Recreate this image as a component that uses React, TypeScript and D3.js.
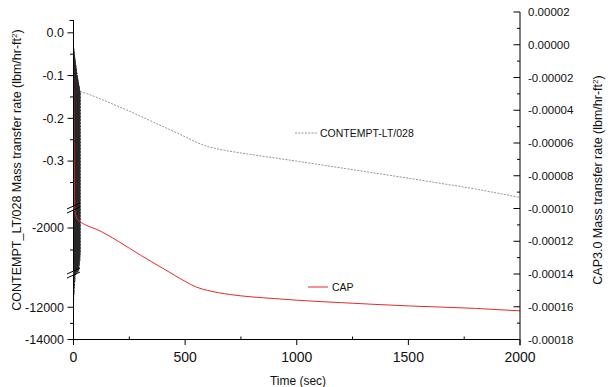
import React from "react";
import * as d3 from "d3";

// ---------- data ----------
const xTicks = [0, 500, 1000, 1500, 2000];
const xMinorTicks = [250, 750, 1250, 1750];

const leftMajor1 = [0, -0.1, -0.2, -0.3];
const leftMajor1Labels = ["0.0", "-0.1", "-0.2", "-0.3"];
const leftMinor1 = [-0.05, -0.15, -0.25, -0.35];
const leftMajor2 = [-2000];
const leftMinor2 = [-3000];
const leftMajor3 = [-12000, -14000];
const leftMinor3 = [-13000];

const rightTicks = [0.00002, 0, -0.00002, -0.00004, -0.00006, -0.00008, -0.0001, -0.00012, -0.00014, -0.00016, -0.00018];
const rightTickLabels = ["0.00002", "0.00000", "-0.00002", "-0.00004", "-0.00006", "-0.00008", "-0.00010", "-0.00012", "-0.00014", "-0.00016", "-0.00018"];
const rightMinor = [0.00001, -0.00001, -0.00003, -0.00005, -0.00007, -0.00009, -0.00011, -0.00013, -0.00015, -0.00017];

// CONTEMPT-LT/028: early oscillation (peaks at whole seconds, troughs at half seconds)
const oscPeaks = [-0.03, -0.035, -0.04, -0.045, -0.05, -0.055, -0.058, -0.062, -0.066, -0.07, -0.074, -0.078, -0.082, -0.086, -0.09, -0.094, -0.098, -0.101, -0.104, -0.107, -0.11, -0.113, -0.116, -0.119, -0.122, -0.125, -0.128, -0.131, -0.134, -0.136, -0.138];
const oscTroughs = [-11600, -9800, -11200, -8500, -10800, -7000, -10400, -6000, -9600, -5200, -9000, -4800, -8000, -4400, -7200, -4100, -6000, -3900, -5000, -3800, -4500, -3600, -4200, -3500, -3900, -3400, -3700, -3300, -3500, -3200];
// CONTEMPT-LT/028: smooth part
const contemptTime = [30, 60, 100, 150, 200, 250, 300, 350, 400, 450, 500, 550, 600, 650, 700, 800, 1000, 1200, 1500, 1800, 2000];
const contemptValue = [-0.138, -0.142, -0.15, -0.161, -0.172, -0.183, -0.195, -0.207, -0.219, -0.231, -0.243, -0.256, -0.266, -0.272, -0.277, -0.285, -0.3, -0.316, -0.34, -0.365, -0.385];

// CAP3.0
const capTime = [0, 1, 3, 6, 10, 20, 40, 70, 100, 150, 200, 300, 400, 500, 550, 600, 700, 800, 900, 1000, 1200, 1500, 1800, 2000];
const capValue = [-0.000001, -0.00003, -0.00007, -0.0001, -0.000104, -0.000107, -0.000109, -0.000111, -0.0001125, -0.000116, -0.00012, -0.0001285, -0.0001365, -0.0001445, -0.000148, -0.00015, -0.0001525, -0.000154, -0.000155, -0.000156, -0.0001575, -0.0001595, -0.000161, -0.0001625];

// ---------- layout ----------
const W = 611;
const H = 387;
const X0 = 73.5;
const X1 = 520;
const YB = 339.5;
const FONT = "'Liberation Sans', Arial, sans-serif";

const xScale = d3.scaleLinear().domain([0, 2000]).range([X0, X1]);

const seg1 = d3.scaleLinear().domain([0.03, -0.405]).range([20, 206]);
const seg2 = d3.scaleLinear().domain([-1180, -3955]).range([210, 271]);
const seg3 = d3.scaleLinear().domain([-10000, -14000]).range([275, YB]);
const gap1 = d3.scaleLinear().domain([-0.405, -1180]).range([206, 210]);
const gap2 = d3.scaleLinear().domain([-3955, -10000]).range([271, 275]);

function yLeft(v: number): number {
  if (v >= -0.405) return seg1(v);
  if (v >= -1180) return gap1(v);
  if (v >= -3955) return seg2(v);
  if (v >= -10000) return gap2(v);
  return seg3(v);
}

const yRight = d3.scaleLinear().domain([0.00002, -0.00018]).range([12, YB]);

export default function App() {
  const oscPts: [number, number][] = [];
  for (let i = 0; i < oscPeaks.length; i++) {
    oscPts.push([i, oscPeaks[i]]);
    if (i < oscTroughs.length) oscPts.push([i + 0.5, oscTroughs[i]]);
  }
  const smoothPts: [number, number][] = contemptTime.map((t, i) => [t, contemptValue[i]]);
  const lineL = d3
    .line<[number, number]>()
    .x((d) => xScale(d[0]))
    .y((d) => yLeft(d[1]));
  const capPts: [number, number][] = capTime.map((t, i) => [t, capValue[i]]);
  const lineR = d3
    .line<[number, number]>()
    .x((d) => xScale(d[0]))
    .y((d) => yRight(d[1]))
    .curve(d3.curveMonotoneX);

  const red = "#e8282c";
  const gray = "#7a7a7a";

  const breakMark = (yc: number, key: string) => (
    <g key={key}>
      <line x1={X0 - 6.5} y1={yc + 1} x2={X0 + 6.5} y2={yc - 5} stroke="#000" strokeWidth={1} />
      <line x1={X0 - 6.5} y1={yc + 5} x2={X0 + 6.5} y2={yc - 1} stroke="#000" strokeWidth={1} />
    </g>
  );

  return (
    <svg width={W} height={H} style={{ position: "absolute", left: 0, top: 0, background: "#fff" }} fontFamily={FONT}>
      <rect width={W} height={H} fill="#fff" />
      {/* data */}
      <path d={lineL(oscPts) || ""} fill="none" stroke="#2a2a2a" strokeWidth={0.8} strokeDasharray="2,1.2" />
      <path d={lineL(smoothPts) || ""} fill="none" stroke={gray} strokeWidth={0.8} strokeDasharray="2,1.3" />
      <path d={lineR(capPts) || ""} fill="none" stroke={red} strokeWidth={1} />

      {/* bottom axis */}
      <line x1={X0} x2={X1} y1={YB} y2={YB} stroke="#000" strokeWidth={1} />
      {xTicks.map((t) => (
        <g key={"xt" + t}>
          <line x1={xScale(t)} x2={xScale(t)} y1={YB} y2={YB + 5.5} stroke="#000" />
          <text x={xScale(t)} y={362} fontSize={14} textAnchor="middle" fill="#111">
            {t}
          </text>
        </g>
      ))}
      {xMinorTicks.map((t) => (
        <line key={"xm" + t} x1={xScale(t)} x2={xScale(t)} y1={YB} y2={YB - 3} stroke="#000" />
      ))}
      <text x={298} y={385} fontSize={12} textAnchor="middle" fill="#111">
        Time (sec)
      </text>

      {/* left axis segments */}
      <line x1={X0} x2={X0} y1={20} y2={206} stroke="#000" />
      <line x1={X0} x2={X0} y1={210} y2={271} stroke="#000" />
      <line x1={X0} x2={X0} y1={275} y2={YB + 0.5} stroke="#000" />
      <line x1={X0 - 4} x2={X0} y1={20.5} y2={20.5} stroke="#000" />
      {breakMark(208, "b1")}
      {breakMark(273, "b2")}
      {leftMajor1.map((v, i) => (
        <g key={"l1" + v}>
          <line x1={X0 - 6} x2={X0} y1={yLeft(v)} y2={yLeft(v)} stroke="#000" />
          <text x={64} y={yLeft(v)} dy="0.35em" fontSize={12.5} textAnchor="end" fill="#111">
            {leftMajor1Labels[i]}
          </text>
        </g>
      ))}
      {[...leftMajor2, ...leftMajor3].map((v) => (
        <g key={"l2" + v}>
          <line x1={X0 - 6} x2={X0} y1={yLeft(v)} y2={yLeft(v)} stroke="#000" />
          <text x={64} y={yLeft(v)} dy="0.35em" fontSize={12.5} textAnchor="end" fill="#111">
            {v}
          </text>
        </g>
      ))}
      {[...leftMinor1, ...leftMinor2, ...leftMinor3].map((v) => (
        <line key={"lm" + v} x1={X0 - 3.5} x2={X0} y1={yLeft(v)} y2={yLeft(v)} stroke="#000" />
      ))}
      <text transform="translate(20.5,170) rotate(-90)" fontSize={12.5} textAnchor="middle" fill="#111">
        CONTEMPT_LT/028 Mass transfer rate (lbm/hr-ft
        <tspan dy={-4} fontSize={8}>2</tspan>
        <tspan dy={4}>)</tspan>
      </text>

      {/* right axis */}
      <line x1={X1} x2={X1} y1={12} y2={YB + 6} stroke="#000" />
      {rightTicks.map((v, i) => (
        <g key={"r" + i}>
          <line x1={X1 - 6.5} x2={X1} y1={yRight(v)} y2={yRight(v)} stroke="#000" />
          <text x={528} y={yRight(v)} dy="0.35em" fontSize={11.5} fill="#111">
            {rightTickLabels[i]}
          </text>
        </g>
      ))}
      {rightMinor.map((v, i) => (
        <line key={"rm" + i} x1={X1 - 3} x2={X1} y1={yRight(v)} y2={yRight(v)} stroke="#000" />
      ))}
      <text transform="translate(601.5,180) rotate(-90)" fontSize={12.5} textAnchor="middle" fill="#111">
        CAP3.0 Mass transfer rate (lbm/hr-ft
        <tspan dy={-4} fontSize={8}>2</tspan>
        <tspan dy={4}>)</tspan>
      </text>

      {/* legends */}
      <line x1={295} x2={317} y1={133} y2={133} stroke={gray} strokeWidth={0.8} strokeDasharray="2,1.3" />
      <text x={320} y={133} dy="0.35em" fontSize={10.5} fill="#111">
        CONTEMPT-LT/028
      </text>
      <line x1={308} x2={328} y1={287} y2={287} stroke={red} strokeWidth={1} />
      <text x={332} y={287} dy="0.35em" fontSize={10.5} fill="#111">
        CAP
      </text>
    </svg>
  );
}
